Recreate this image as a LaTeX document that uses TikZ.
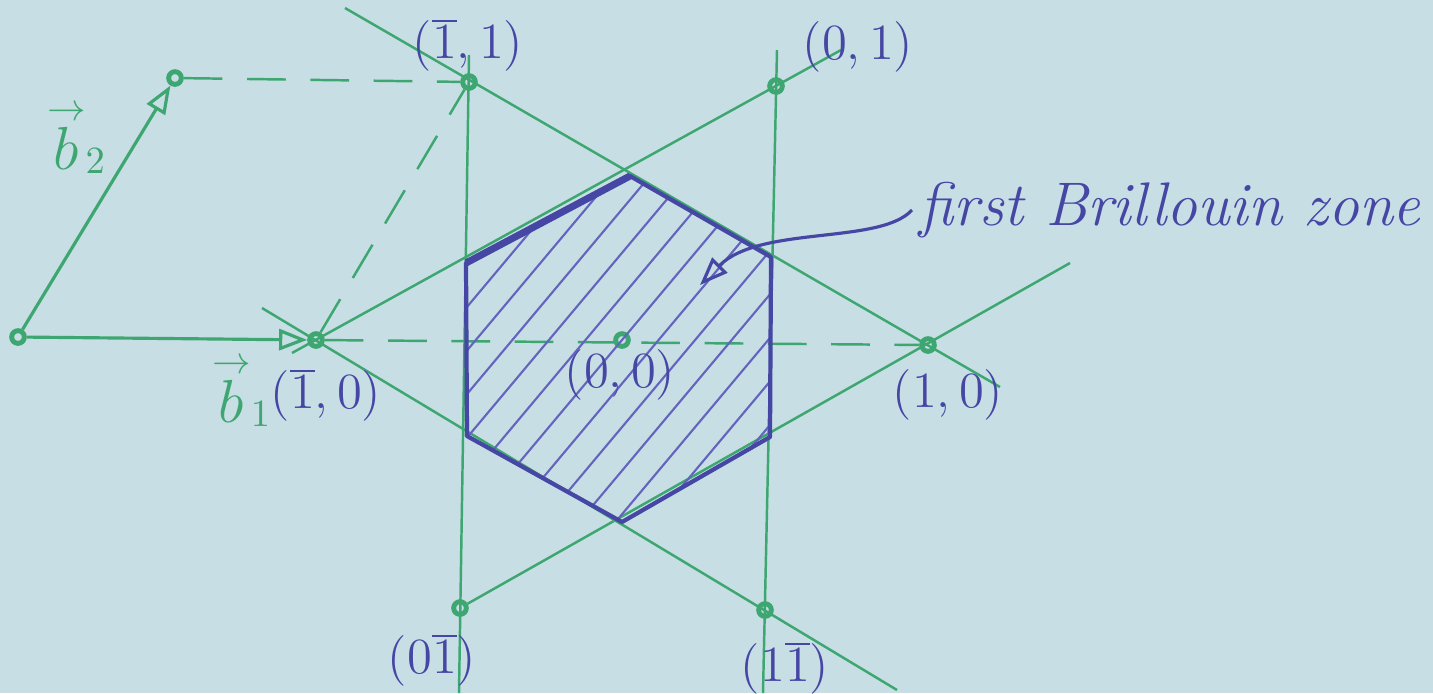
\documentclass[tikz,border=0pt]{standalone}
\usepackage{tikz}
\usetikzlibrary{arrows.meta}

\definecolor{paper}{RGB}{198,222,228}
\definecolor{pen}{RGB}{62,166,112}
\definecolor{ink}{RGB}{70,70,165}
\definecolor{inklight}{RGB}{100,100,190}

\tikzset{
  lattice/.style={draw=pen, line width=0.7pt},
  guide/.style={draw=pen, line width=0.7pt, dash pattern=on 11pt off 7pt},
  pt/.style={circle, draw=pen, line width=1.4pt, inner sep=0pt, minimum size=3.6pt},
  zone/.style={draw=ink, line width=1.2pt, line join=round},
  hatch/.style={draw=inklight, line width=0.6pt},
  lbl/.style={text=ink, inner sep=1pt, font=\fontsize{14}{17}\selectfont},
  veclbl/.style={text=pen, inner sep=1pt, font=\fontsize{16}{19}\selectfont},
  vecarrow/.style={lattice, line width=0.9pt, -{Triangle[open, length=8pt, width=6pt]}},
}

\begin{document}
\begin{tikzpicture}[x=0.01cm, y=-0.01cm]
	\fill[paper] (0,0) rectangle (1433,693);
	\useasboundingbox (0,0) rectangle (1433,693);

	% reciprocal lattice points
	\node[pt] (o) at (18,337) {};
	\node[pt] (b2) at (175,78) {};
	\node[pt] (m11) at (469,82) {};
	\node[pt] (p01) at (776,86) {};
	\node[pt] (m10) at (316,340) {};
	\node[pt] (p00) at (622,340) {};
	\node[pt] (p10) at (928,345) {};
	\node[pt] (p0m1) at (460,608) {};
	\node[pt] (p1m1) at (765,610) {};

	% free ends of the lattice lines
	\coordinate (l1a) at (345,8);
	\coordinate (l1b) at (1000,387);
	\coordinate (l2a) at (262,308);
	\coordinate (l2b) at (897,690);
	\coordinate (l3b) at (1070,263);
	\coordinate (l4a) at (292,353);
	\coordinate (l4b) at (841,50);
	\coordinate (v1a) at (469,55);
	\coordinate (v1b) at (459,693);
	\coordinate (v2a) at (777,50);
	\coordinate (v2b) at (763,693);

	\draw[lattice] (l1a) -- (l1b);
	\draw[lattice] (l2a) -- (l2b);
	\draw[lattice] (p0m1) -- (l3b);
	\draw[lattice] (l4a) -- (l4b);
	\draw[lattice] (v1a) -- (v1b);
	\draw[lattice] (v2a) -- (v2b);

	\draw[guide] (b2) -- (m11);
	\draw[guide] (m10) -- (m11);
	\draw[guide] (m10) -- (p10);

	% basis vectors
	\draw[vecarrow] (o) -- (m10);
	\draw[vecarrow] (o) -- (b2);
	\node[veclbl] (tb2) at (77,138) {$\stackrel{\rightarrow}{b}_2$};
	\node[veclbl] (tb1) at (242,391) {$\stackrel{\rightarrow}{b}_1$};

	% first Brillouin zone
	\coordinate (h1) at (630,176);
	\coordinate (h2) at (771,257);
	\coordinate (h3) at (770,437);
	\coordinate (h4) at (622,522);
	\coordinate (h5) at (467,436);
	\coordinate (h6) at (466,263);
	\begin{scope}
		\clip (h1) -- (h2) -- (h3) -- (h4) -- (h5) -- (h6) -- cycle;
		\begin{scope}[shift={(p00)}, rotate=50]
			\foreach \d in {-168,-140,...,168}
				\draw[hatch] (-320,\d) -- (320,\d);
		\end{scope}
	\end{scope}
	\draw[zone] (h1) -- (h2) -- (h3) -- (h4) -- (h5) -- (h6) -- cycle;
	\draw[zone, line width=2pt] (h6) -- (h1);

	\node[anchor=west, text=ink, inner sep=2pt, font=\fontsize{17.5}{20}\selectfont\itshape] (fbz) at (912,210) {first Brillouin zone};
	\coordinate (arrtip) at (700,285);
	\draw[ink, line width=0.9pt, -{Triangle[open, length=8pt, width=6pt]}] (fbz.west) .. controls (880,245) and (760,225) .. (arrtip);

	% labels
	\node[lbl] (tm11) at (468,45) {$(\overline{1},1)$};
	\node[lbl] (tp01) at (858,47) {$(0,1)$};
	\node[lbl] (tp00) at (620,375) {$(0,0)$};
	\node[lbl] (tp10) at (948,395) {$(1,0)$};
	\node[lbl] (tm10) at (326,395) {$(\overline{1},0)$};
	\node[lbl] (tp0m1) at (432,660) {$(0\overline{1})$};
	\node[lbl] (tp1m1) at (785,668) {$(1\overline{1})$};
\end{tikzpicture}
\end{document}
